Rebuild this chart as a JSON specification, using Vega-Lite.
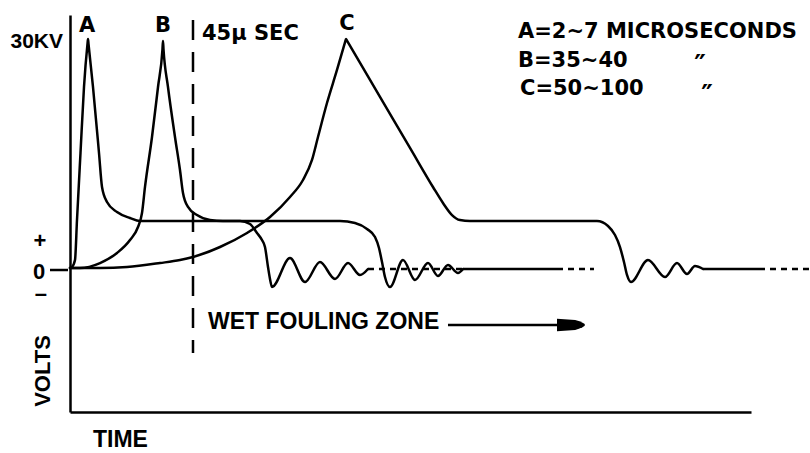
{
  "$schema": "https://vega.github.io/schema/vega-lite/v6.json",
  "width": 681,
  "height": 397,
  "autosize": {"type": "none"},
  "padding": {"left": 70, "top": 15, "right": 59, "bottom": 41},
  "background": "white",
  "config": {
    "view": {"stroke": null},
    "axis": {"domainColor": "#000", "domainWidth": 2.5, "labels": false, "ticks": false, "grid": false, "domainCap": "butt"}
  },
  "datasets": {
    "curves": [
      {"curve": "A", "t": 0, "kV": 0.13},
      {"curve": "A", "t": 0.73, "kV": 0.26},
      {"curve": "A", "t": 1.83, "kV": 1.17},
      {"curve": "A", "t": 2.56, "kV": 6.39},
      {"curve": "A", "t": 3.84, "kV": 15.13},
      {"curve": "A", "t": 5.12, "kV": 23.74},
      {"curve": "A", "t": 6.40, "kV": 29.35},
      {"curve": "A", "t": 6.59, "kV": 30.0},
      {"curve": "A", "t": 6.77, "kV": 29.35},
      {"curve": "A", "t": 8.41, "kV": 23.74},
      {"curve": "A", "t": 10.61, "kV": 15.13},
      {"curve": "A", "t": 11.71, "kV": 10.70},
      {"curve": "A", "t": 13.54, "kV": 8.74},
      {"curve": "A", "t": 17.20, "kV": 7.43},
      {"curve": "A", "t": 21.95, "kV": 6.65},
      {"curve": "A", "t": 25.61, "kV": 6.26},
      {"curve": "A", "t": 62.20, "kV": 6.26},
      {"curve": "A", "t": 65.85, "kV": 5.87},
      {"curve": "A", "t": 68.41, "kV": 4.70},
      {"curve": "A", "t": 70.24, "kV": 3.78},
      {"curve": "A", "t": 71.34, "kV": 2.87},
      {"curve": "A", "t": 72.44, "kV": 0.26},
      {"curve": "A", "t": 73.17, "kV": -1.30},
      {"curve": "A", "t": 73.90, "kV": -2.35},
      {"curve": "A", "t": 80.49, "kV": 1.43},
      {"curve": "A", "t": 85.98, "kV": -1.70},
      {"curve": "A", "t": 91.46, "kV": 0.91},
      {"curve": "A", "t": 96.95, "kV": -1.30},
      {"curve": "A", "t": 101.71, "kV": 0.78},
      {"curve": "A", "t": 106.10, "kV": -0.78},
      {"curve": "A", "t": 109.02, "kV": 0},
      {"curve": "B", "t": 0, "kV": 0.13},
      {"curve": "B", "t": 3.66, "kV": 0.13},
      {"curve": "B", "t": 10.98, "kV": 0.78},
      {"curve": "B", "t": 17.20, "kV": 2.09},
      {"curve": "B", "t": 21.95, "kV": 3.78},
      {"curve": "B", "t": 24.88, "kV": 5.48},
      {"curve": "B", "t": 26.34, "kV": 7.30},
      {"curve": "B", "t": 27.44, "kV": 10.70},
      {"curve": "B", "t": 30.00, "kV": 17.22},
      {"curve": "B", "t": 32.20, "kV": 23.74},
      {"curve": "B", "t": 33.84, "kV": 28.70},
      {"curve": "B", "t": 34.02, "kV": 29.74},
      {"curve": "B", "t": 34.20, "kV": 28.70},
      {"curve": "B", "t": 35.85, "kV": 23.74},
      {"curve": "B", "t": 38.41, "kV": 17.22},
      {"curve": "B", "t": 40.24, "kV": 12.91},
      {"curve": "B", "t": 41.34, "kV": 9.91},
      {"curve": "B", "t": 43.17, "kV": 8.09},
      {"curve": "B", "t": 46.46, "kV": 7.04},
      {"curve": "B", "t": 51.22, "kV": 6.39},
      {"curve": "B", "t": 55.98, "kV": 6.26},
      {"curve": "B", "t": 98.78, "kV": 6.26},
      {"curve": "B", "t": 104.27, "kV": 6.00},
      {"curve": "B", "t": 108.66, "kV": 5.22},
      {"curve": "B", "t": 111.59, "kV": 4.17},
      {"curve": "B", "t": 113.05, "kV": 2.74},
      {"curve": "B", "t": 114.15, "kV": 0.91},
      {"curve": "B", "t": 115.24, "kV": -1.04},
      {"curve": "B", "t": 117.07, "kV": -2.35},
      {"curve": "B", "t": 121.83, "kV": 1.17},
      {"curve": "B", "t": 126.22, "kV": -1.43},
      {"curve": "B", "t": 130.97, "kV": 0.78},
      {"curve": "B", "t": 134.63, "kV": -0.91},
      {"curve": "B", "t": 138.29, "kV": 0.52},
      {"curve": "B", "t": 141.95, "kV": -0.52},
      {"curve": "B", "t": 143.78, "kV": 0},
      {"curve": "C", "t": 0, "kV": 0.13},
      {"curve": "C", "t": 10.98, "kV": 0.13},
      {"curve": "C", "t": 20.85, "kV": 0.26},
      {"curve": "C", "t": 32.93, "kV": 0.78},
      {"curve": "C", "t": 40.24, "kV": 1.17},
      {"curve": "C", "t": 45.00, "kV": 1.57},
      {"curve": "C", "t": 54.88, "kV": 2.87},
      {"curve": "C", "t": 64.76, "kV": 4.70},
      {"curve": "C", "t": 73.17, "kV": 6.78},
      {"curve": "C", "t": 80.49, "kV": 9.39},
      {"curve": "C", "t": 85.24, "kV": 11.61},
      {"curve": "C", "t": 88.54, "kV": 14.22},
      {"curve": "C", "t": 90.73, "kV": 17.22},
      {"curve": "C", "t": 94.02, "kV": 21.65},
      {"curve": "C", "t": 97.68, "kV": 25.96},
      {"curve": "C", "t": 100.61, "kV": 29.56},
      {"curve": "C", "t": 100.98, "kV": 30.0},
      {"curve": "C", "t": 101.34, "kV": 29.78},
      {"curve": "C", "t": 113.41, "kV": 22.46},
      {"curve": "C", "t": 124.39, "kV": 15.80},
      {"curve": "C", "t": 132.80, "kV": 10.70},
      {"curve": "C", "t": 136.46, "kV": 8.61},
      {"curve": "C", "t": 139.76, "kV": 7.04},
      {"curve": "C", "t": 142.68, "kV": 6.39},
      {"curve": "C", "t": 146.34, "kV": 6.26},
      {"curve": "C", "t": 192.80, "kV": 6.26},
      {"curve": "C", "t": 196.83, "kV": 5.61},
      {"curve": "C", "t": 199.39, "kV": 4.43},
      {"curve": "C", "t": 201.22, "kV": 2.87},
      {"curve": "C", "t": 202.68, "kV": 0.91},
      {"curve": "C", "t": 203.78, "kV": -0.78},
      {"curve": "C", "t": 205.24, "kV": -1.70},
      {"curve": "C", "t": 211.46, "kV": 1.17},
      {"curve": "C", "t": 217.68, "kV": -1.04},
      {"curve": "C", "t": 222.07, "kV": 0.78},
      {"curve": "C", "t": 225.73, "kV": -0.65},
      {"curve": "C", "t": 228.66, "kV": 0.39},
      {"curve": "C", "t": 231.59, "kV": 0}
    ],
    "zeroSolid": [
      {"seg": "tick", "t": -7.32, "kV": -0.13},
      {"seg": "tick", "t": -0.73, "kV": -0.13},
      {"seg": "z1", "t": 143.78, "kV": 0},
      {"seg": "z1", "t": 180.37, "kV": 0},
      {"seg": "z2", "t": 231.59, "kV": 0},
      {"seg": "z2", "t": 254.27, "kV": 0}
    ],
    "zeroDashed": [
      {"seg": "d1", "t": 109.02, "kV": 0},
      {"seg": "d1", "t": 143.78, "kV": 0},
      {"seg": "d2", "t": 182.2, "kV": 0},
      {"seg": "d2", "t": 191.7, "kV": 0},
      {"seg": "d3", "t": 256.10, "kV": 0},
      {"seg": "d3", "t": 270.73, "kV": 0}
    ],
    "marker45": [{"t": 45, "kV": 32.48, "kV2": -10.96}],
    "arrow": [{"t": 138.29, "t2": 182.0, "kV": -7.30}],
    "arrowHead": [{"t": 183.29, "kV": -7.30}],
    "peakLabels": [
      {"label": "A", "t": 6.22, "kV": 30.91},
      {"label": "B", "t": 34.02, "kV": 30.91},
      {"label": "C", "t": 101.34, "kV": 31.17}
    ],
    "notes": [
      {"label": "45μ SEC", "t": 48.29, "kV": 29.87},
      {"label": "A=2~7 MICROSECONDS", "t": 163.90, "kV": 30.13},
      {"label": "B=35~40", "t": 163.90, "kV": 26.35},
      {"label": "C=50~100", "t": 164.63, "kV": 22.70}
    ],
    "dittos": [
      {"label": "″", "t": 230.49, "kV": 25.40},
      {"label": "″", "t": 233.05, "kV": 21.48}
    ],
    "kvLabel": [{"label": "30KV", "t": -2.56, "kV": 28.83}],
    "zone": [{"label": "WET FOULING ZONE", "t": 50.49, "kV": -7.83}],
    "timeLabel": [{"label": "TIME", "t": 8.41, "kV": -23.22}],
    "voltsLabel": [{"label": "VOLTS", "t": -9.88, "kV": -13.30}],
    "signs": [
      {"label": "+", "t": -10.98, "kV": 3.65},
      {"label": "0", "t": -11.34, "kV": -0.33},
      {"label": "–", "t": -10.61, "kV": -3.26}
    ]
  },
  "layer": [
    {
      "data": {"name": "curves"},
      "mark": {"type": "line", "interpolate": "monotone", "stroke": "#000", "strokeWidth": 2.5, "strokeCap": "round", "strokeJoin": "round"},
      "encoding": {
        "x": {"field": "t", "type": "quantitative", "scale": {"domain": [0, 249.15], "nice": false, "zero": false}, "title": null},
        "y": {"field": "kV", "type": "quantitative", "scale": {"domain": [-18.65, 33.13], "nice": false, "zero": false}, "title": null},
        "detail": {"field": "curve", "type": "nominal"}
      }
    },
    {
      "data": {"name": "zeroSolid"},
      "mark": {"type": "line", "stroke": "#000", "strokeWidth": 2.5},
      "encoding": {
        "x": {"field": "t", "type": "quantitative", "scale": {"domain": [0, 249.15], "nice": false, "zero": false}, "title": null},
        "y": {"field": "kV", "type": "quantitative", "scale": {"domain": [-18.65, 33.13], "nice": false, "zero": false}, "title": null},
        "detail": {"field": "seg", "type": "nominal"}
      }
    },
    {
      "data": {"name": "zeroDashed"},
      "mark": {"type": "line", "stroke": "#000", "strokeWidth": 2.5, "strokeDash": [6, 5]},
      "encoding": {
        "x": {"field": "t", "type": "quantitative", "scale": {"domain": [0, 249.15], "nice": false, "zero": false}, "title": null},
        "y": {"field": "kV", "type": "quantitative", "scale": {"domain": [-18.65, 33.13], "nice": false, "zero": false}, "title": null},
        "detail": {"field": "seg", "type": "nominal"}
      }
    },
    {
      "data": {"name": "marker45"},
      "mark": {"type": "rule", "stroke": "#000", "strokeWidth": 2.5, "strokeDash": [20, 12]},
      "encoding": {
        "x": {"field": "t", "type": "quantitative", "scale": {"domain": [0, 249.15], "nice": false, "zero": false}, "title": null},
        "y": {"field": "kV", "type": "quantitative", "scale": {"domain": [-18.65, 33.13], "nice": false, "zero": false}, "title": null},
        "y2": {"field": "kV2"}
      }
    },
    {
      "data": {"name": "arrow"},
      "mark": {"type": "rule", "stroke": "#000", "strokeWidth": 2.5},
      "encoding": {
        "x": {"field": "t", "type": "quantitative", "scale": {"domain": [0, 249.15], "nice": false, "zero": false}, "title": null},
        "x2": {"field": "t2"},
        "y": {"field": "kV", "type": "quantitative", "scale": {"domain": [-18.65, 33.13], "nice": false, "zero": false}, "title": null}
      }
    },
    {
      "data": {"name": "arrowHead"},
      "mark": {"type": "point", "filled": true, "color": "#000", "opacity": 1, "size": 784, "shape": "M-1,-0.45 L0.3,-0.35 Q1,-0.15 1,0 Q1,0.15 0.3,0.35 L-1,0.45 Z"},
      "encoding": {
        "x": {"field": "t", "type": "quantitative", "scale": {"domain": [0, 249.15], "nice": false, "zero": false}, "title": null},
        "y": {"field": "kV", "type": "quantitative", "scale": {"domain": [-18.65, 33.13], "nice": false, "zero": false}, "title": null}
      }
    },
    {
      "data": {"name": "peakLabels"},
      "mark": {"type": "text", "font": "DejaVu Sans", "fontWeight": "bold", "fontSize": 21, "align": "center", "baseline": "alphabetic", "color": "#000"},
      "encoding": {
        "x": {"field": "t", "type": "quantitative", "scale": {"domain": [0, 249.15], "nice": false, "zero": false}, "title": null},
        "y": {"field": "kV", "type": "quantitative", "scale": {"domain": [-18.65, 33.13], "nice": false, "zero": false}, "title": null},
        "text": {"field": "label"}
      }
    },
    {
      "data": {"name": "notes"},
      "mark": {"type": "text", "font": "DejaVu Sans", "fontWeight": "bold", "fontSize": 21, "align": "left", "baseline": "alphabetic", "color": "#000"},
      "encoding": {
        "x": {"field": "t", "type": "quantitative", "scale": {"domain": [0, 249.15], "nice": false, "zero": false}, "title": null},
        "y": {"field": "kV", "type": "quantitative", "scale": {"domain": [-18.65, 33.13], "nice": false, "zero": false}, "title": null},
        "text": {"field": "label"}
      }
    },
    {
      "data": {"name": "dittos"},
      "mark": {"type": "text", "font": "DejaVu Sans", "fontWeight": "bold", "fontSize": 26, "align": "center", "baseline": "alphabetic", "color": "#000"},
      "encoding": {
        "x": {"field": "t", "type": "quantitative", "scale": {"domain": [0, 249.15], "nice": false, "zero": false}, "title": null},
        "y": {"field": "kV", "type": "quantitative", "scale": {"domain": [-18.65, 33.13], "nice": false, "zero": false}, "title": null},
        "text": {"field": "label"}
      }
    },
    {
      "data": {"name": "kvLabel"},
      "mark": {"type": "text", "font": "Liberation Sans", "fontWeight": "bold", "fontSize": 21, "align": "right", "baseline": "alphabetic", "color": "#000"},
      "encoding": {
        "x": {"field": "t", "type": "quantitative", "scale": {"domain": [0, 249.15], "nice": false, "zero": false}, "title": null},
        "y": {"field": "kV", "type": "quantitative", "scale": {"domain": [-18.65, 33.13], "nice": false, "zero": false}, "title": null},
        "text": {"field": "label"}
      }
    },
    {
      "data": {"name": "zone"},
      "mark": {"type": "text", "font": "Liberation Sans", "fontWeight": "bold", "fontSize": 23, "align": "left", "baseline": "alphabetic", "color": "#000"},
      "encoding": {
        "x": {"field": "t", "type": "quantitative", "scale": {"domain": [0, 249.15], "nice": false, "zero": false}, "title": null},
        "y": {"field": "kV", "type": "quantitative", "scale": {"domain": [-18.65, 33.13], "nice": false, "zero": false}, "title": null},
        "text": {"field": "label"}
      }
    },
    {
      "data": {"name": "timeLabel"},
      "mark": {"type": "text", "font": "Liberation Sans", "fontWeight": "bold", "fontSize": 23, "align": "left", "baseline": "alphabetic", "color": "#000"},
      "encoding": {
        "x": {"field": "t", "type": "quantitative", "scale": {"domain": [0, 249.15], "nice": false, "zero": false}, "title": null},
        "y": {"field": "kV", "type": "quantitative", "scale": {"domain": [-18.65, 33.13], "nice": false, "zero": false}, "title": null},
        "text": {"field": "label"}
      }
    },
    {
      "data": {"name": "voltsLabel"},
      "mark": {"type": "text", "font": "Liberation Sans", "fontWeight": "bold", "fontSize": 22, "align": "center", "baseline": "middle", "angle": 270, "color": "#000"},
      "encoding": {
        "x": {"field": "t", "type": "quantitative", "scale": {"domain": [0, 249.15], "nice": false, "zero": false}, "title": null},
        "y": {"field": "kV", "type": "quantitative", "scale": {"domain": [-18.65, 33.13], "nice": false, "zero": false}, "title": null},
        "text": {"field": "label"}
      }
    },
    {
      "data": {"name": "signs"},
      "mark": {"type": "text", "font": "Liberation Sans", "fontWeight": "bold", "fontSize": 22, "align": "center", "baseline": "middle", "color": "#000"},
      "encoding": {
        "x": {"field": "t", "type": "quantitative", "scale": {"domain": [0, 249.15], "nice": false, "zero": false}, "title": null},
        "y": {"field": "kV", "type": "quantitative", "scale": {"domain": [-18.65, 33.13], "nice": false, "zero": false}, "title": null},
        "text": {"field": "label"}
      }
    }
  ]
}
